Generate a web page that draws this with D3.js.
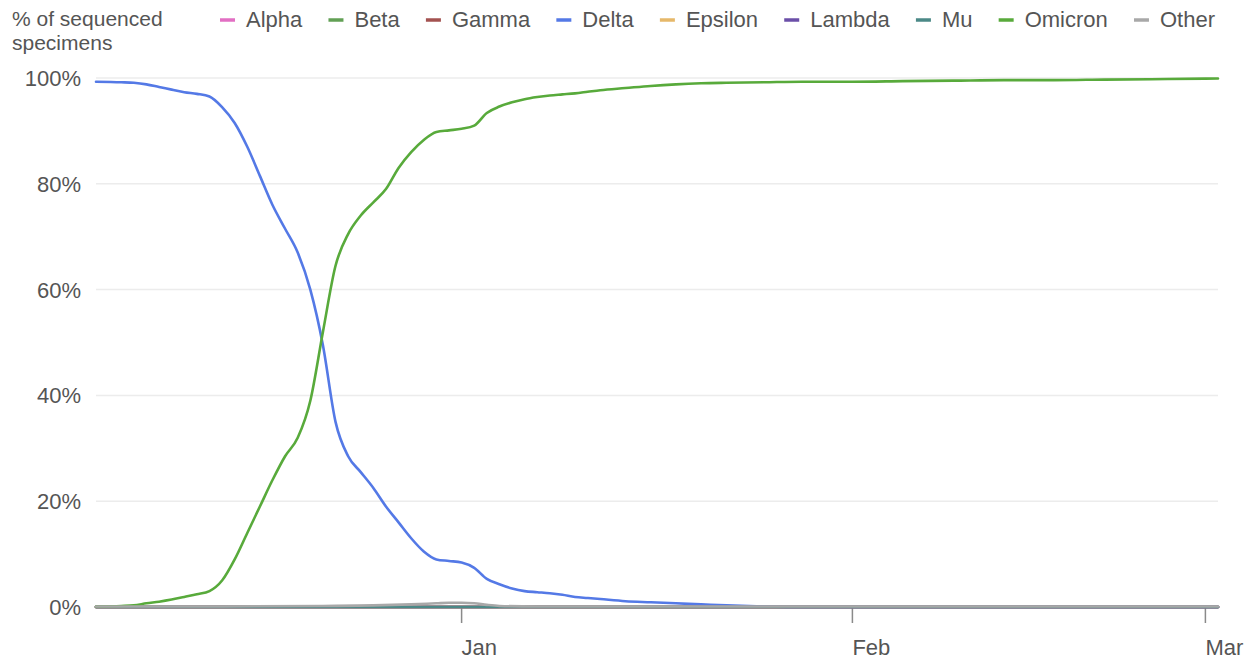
<!DOCTYPE html>
<html><head><meta charset="utf-8">
<script src="https://cdn.jsdelivr.net/npm/d3@7/dist/d3.min.js"></script>
<style>
html,body{margin:0;padding:0;background:#fff;}
svg{display:block;font-family:"Liberation Sans",Arial,Helvetica,sans-serif;}
</style></head>
<body><svg id="chart" width="1252" height="661"></svg>
<script>
// ---- data ----
const seriesNames = ["Alpha","Beta","Gamma","Delta","Epsilon","Lambda","Mu","Omicron","Other"];
const seriesColors = ["#e26fc3","#62a055","#a35250","#5479e6","#e6b86a","#6b4fa8","#4b8987","#58aa3b","#a8a8a8"];
const yTickLabels = ["0%","20%","40%","60%","80%","100%"];
const xTickDates = ["2022-01-01","2022-02-01","2022-03-01"];
const xTickLabels = ["Jan","Feb","Mar"];

const deltaDates = ["2021-12-03","2021-12-05","2021-12-06","2021-12-07","2021-12-08","2021-12-09","2021-12-10","2021-12-11","2021-12-12","2021-12-13","2021-12-14","2021-12-15","2021-12-16","2021-12-17","2021-12-18","2021-12-19","2021-12-20","2021-12-21","2021-12-22","2021-12-23","2021-12-24","2021-12-25","2021-12-26","2021-12-27","2021-12-28","2021-12-29","2021-12-30","2021-12-31","2022-01-01","2022-01-02","2022-01-03","2022-01-04","2022-01-05","2022-01-06","2022-01-07","2022-01-08","2022-01-09","2022-01-10","2022-01-11","2022-01-12","2022-01-14","2022-01-16","2022-01-18","2022-01-20","2022-01-22","2022-01-25","2022-01-28","2022-02-05","2022-02-15","2022-02-25","2022-03-02"];
const deltaValues = [99.3,99.2,99.1,98.8,98.3,97.8,97.3,97.0,96.5,94.5,91.5,87,81.5,76,71.5,67,60,49.5,35,28.5,25.5,22.5,19,16,13,10.5,9,8.7,8.4,7.4,5.3,4.3,3.5,3.0,2.8,2.6,2.3,1.9,1.7,1.5,1.1,0.9,0.7,0.5,0.3,0.1,0,0,0,0,0];

const omicronDates = ["2021-12-03","2021-12-05","2021-12-06","2021-12-07","2021-12-08","2021-12-09","2021-12-10","2021-12-11","2021-12-12","2021-12-13","2021-12-14","2021-12-15","2021-12-16","2021-12-17","2021-12-18","2021-12-19","2021-12-20","2021-12-21","2021-12-22","2021-12-23","2021-12-24","2021-12-25","2021-12-26","2021-12-27","2021-12-28","2021-12-29","2021-12-30","2021-12-31","2022-01-01","2022-01-02","2022-01-03","2022-01-04","2022-01-05","2022-01-06","2022-01-07","2022-01-08","2022-01-09","2022-01-10","2022-01-11","2022-01-12","2022-01-14","2022-01-16","2022-01-18","2022-01-20","2022-01-22","2022-01-25","2022-01-28","2022-02-01","2022-02-05","2022-02-09","2022-02-13","2022-02-17","2022-02-21","2022-02-26","2022-03-02"];
const omicronValues = [0.1,0.2,0.3,0.7,1.0,1.4,1.9,2.4,3.0,5.0,9.0,14,19,24,28.5,32,39,52,64.5,70.5,74,76.5,79,83,86,88.3,89.8,90.1,90.4,91,93.4,94.6,95.4,96,96.4,96.7,96.9,97.1,97.4,97.7,98.1,98.5,98.8,99.0,99.1,99.2,99.3,99.3,99.4,99.5,99.6,99.6,99.7,99.8,99.9];

const otherDates = ["2021-12-03","2021-12-13","2021-12-21","2021-12-25","2021-12-28","2021-12-30","2021-12-31","2022-01-01","2022-01-02","2022-01-03","2022-01-04","2022-01-07","2022-03-02"];
const otherValues = [0.1,0.1,0.2,0.3,0.5,0.7,0.8,0.8,0.7,0.4,0.2,0.1,0.1];

const zeroDates = ["2021-12-03","2022-03-02"];
const zeroValues = [0,0];

// ---- build series ----
const parse = d3.timeParse("%Y-%m-%d");
function mk(dates, vals){ return dates.map((d,i)=>({date:parse(d), v:vals[i]})); }
const seriesData = {
  Alpha: mk(zeroDates, zeroValues), Beta: mk(zeroDates, zeroValues), Gamma: mk(zeroDates, zeroValues),
  Delta: mk(deltaDates, deltaValues), Epsilon: mk(zeroDates, zeroValues), Lambda: mk(zeroDates, zeroValues),
  Mu: mk(zeroDates, zeroValues), Omicron: mk(omicronDates, omicronValues), Other: mk(otherDates, otherValues)
};

// ---- layout ----
const svg = d3.select("#chart");
const X0 = 96, X1 = 1218, Y0 = 607, Y1 = 78;
const FONT = 22, TEXT = "#555";

const x = d3.scaleTime().domain([parse("2021-12-03"), parse("2022-03-02")]).range([X0, X1]);
const y = d3.scaleLinear().domain([0,100]).range([Y0, Y1]);

// gridlines
const yVals = yTickLabels.map(s => +s.replace("%",""));
svg.append("g").selectAll("line").data(yVals.filter(v=>v>0)).join("line")
  .attr("x1", X0).attr("x2", X1).attr("y1", d=>y(d)).attr("y2", d=>y(d))
  .attr("stroke", "#ececec").attr("stroke-width", 1.5);

// y labels
svg.append("g").selectAll("text").data(yVals).join("text")
  .attr("x", 81).attr("y", d=>y(d)).attr("dy","0.36em")
  .attr("text-anchor","end").attr("font-size",FONT).attr("fill",TEXT)
  .text((d,i)=>yTickLabels[i]);

// x axis line
svg.append("line").attr("x1",X0).attr("x2",X1).attr("y1",Y0).attr("y2",Y0)
  .attr("stroke","#8f8f8f").attr("stroke-width",2.5);

// x ticks
const xt = xTickDates.map(parse);
svg.append("g").selectAll("line").data(xt).join("line")
  .attr("x1",d=>x(d)).attr("x2",d=>x(d)).attr("y1",Y0).attr("y2",Y0+16)
  .attr("stroke","#8a8a8a").attr("stroke-width",1.5);
svg.append("g").selectAll("text").data(xt).join("text")
  .attr("x",d=>x(d)).attr("y",655).attr("text-anchor","start")
  .attr("font-size",FONT).attr("fill",TEXT).text((d,i)=>xTickLabels[i]);

// lines
const line = d3.line().x(d=>x(d.date)).y(d=>y(d.v)).curve(d3.curveMonotoneX);
seriesNames.forEach((n,i)=>{
  svg.append("path").datum(seriesData[n]).attr("d",line)
    .attr("fill","none").attr("stroke",seriesColors[i]).attr("stroke-width",2.6)
    .attr("stroke-linejoin","round").attr("stroke-linecap","round");
});

// title
const title = svg.append("text").attr("x",12).attr("font-size",21).attr("fill",TEXT);
title.append("tspan").attr("x",12).attr("y",26).text("% of sequenced");
title.append("tspan").attr("x",12).attr("y",50).text("specimens");

// legend
const LSTART = 220, LEND = 1215, SW = 15, SG = 11;
const lg = svg.append("g");
const items = seriesNames.map((n,i)=>{
  const g = lg.append("g");
  g.append("line").attr("class","sw").attr("y1",20).attr("y2",20)
    .attr("stroke",seriesColors[i]).attr("stroke-width",3.5);
  const t = g.append("text").attr("y",27).attr("font-size",FONT).attr("fill",TEXT).text(n);
  return {g, t, w: t.node().getComputedTextLength()};
});
const total = d3.sum(items, d=>d.w + SW + SG);
const gap = (LEND - LSTART - total) / (items.length - 1);
let cx = LSTART;
items.forEach(it=>{
  it.g.select(".sw").attr("x1",cx).attr("x2",cx+SW);
  it.t.attr("x", cx+SW+SG);
  cx += SW + SG + it.w + gap;
});
</script></body></html>
